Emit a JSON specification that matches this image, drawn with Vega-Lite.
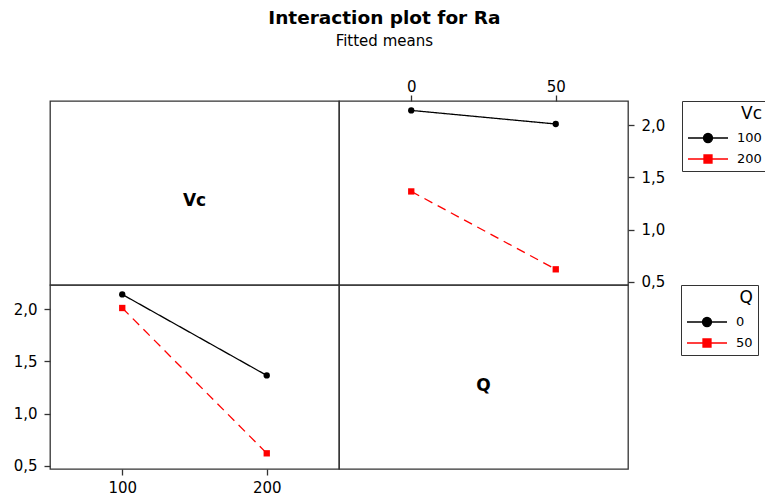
{
  "$schema": "https://vega.github.io/schema/vega-lite/v6.json",
  "padding": {"left": 12, "top": 8, "right": 0, "bottom": 0},
  "background": "white",
  "title": {
    "text": "Interaction plot for Ra",
    "subtitle": "Fitted means",
    "anchor": "middle",
    "frame": "bounds",
    "dx": -6,
    "font": "DejaVu Sans",
    "fontSize": 18.5,
    "fontWeight": "bold",
    "color": "black",
    "subtitleFont": "DejaVu Sans",
    "subtitleFontSize": 15,
    "subtitleColor": "black",
    "subtitlePadding": 7,
    "offset": 29
  },
  "datasets": {
    "means": [
      {"Vc": 100, "Q": 0, "Ra": 2.14},
      {"Vc": 100, "Q": 50, "Ra": 2.01},
      {"Vc": 200, "Q": 0, "Ra": 1.365},
      {"Vc": 200, "Q": 50, "Ra": 0.62}
    ]
  },
  "columns": 2,
  "spacing": 0,
  "bounds": "flush",
  "resolve": {
    "scale": {"x": "independent", "y": "independent", "color": "independent", "shape": "independent", "strokeDash": "independent"},
    "legend": {"color": "independent"}
  },
  "concat": [
    {
      "width": 289,
      "height": 184,
      "data": {"values": [{"label": "Vc"}]},
      "mark": {"type": "text", "font": "DejaVu Sans", "fontWeight": "bold", "fontSize": 17, "dy": 8, "color": "black"},
      "encoding": {
        "x": {"datum": 0.5, "type": "quantitative", "scale": {"domain": [0, 1]}, "axis": null},
        "y": {"datum": 0.5, "type": "quantitative", "scale": {"domain": [0, 1]}, "axis": null},
        "text": {"field": "label", "type": "nominal"}
      }
    },
    {
      "width": 289,
      "height": 184,
      "data": {"name": "means"},
      "encoding": {
        "x": {"field": "Q", "type": "quantitative", "scale": {"domain": [-25, 75], "nice": false, "zero": false},
              "axis": {"orient": "top", "values": [0, 50], "title": null, "labelPadding": 1}},
        "y": {"field": "Ra", "type": "quantitative", "scale": {"domain": [0.47, 2.23], "nice": false, "zero": false},
              "axis": {"orient": "right", "values": [0.5, 1, 1.5, 2], "title": null, "labelPadding": 7,
                       "labelExpr": "replace(format(datum.value, '.1f'), '.', ',')"}},
        "color": {"field": "Vc", "type": "nominal", "scale": {"range": ["black", "red"]},
          "legend": {
            "title": "Vc", "orient": "right", "offset": 17, "padding": 5,
            "strokeColor": "#333", "fillColor": "white",
            "titleFont": "DejaVu Sans", "titleFontSize": 17, "titleFontWeight": "normal", "titleColor": "black",
            "titleAnchor": "end", "titlePadding": 4,
            "labelFont": "DejaVu Sans", "labelFontSize": 13, "labelColor": "black", "labelOffset": 28,
            "symbolSize": 400, "symbolStrokeWidth": 1.3, "symbolOpacity": 1,
            "encode": {"symbols": {"update": {
              "shape": {"signal": "datum.value == 100 ? 'M-1,0H3M0.55,0A0.45,0.45 0 1,1 1.45,0A0.45,0.45 0 1,1 0.55,0Z' : 'M-1,0H3M0.6,-0.4H1.4V0.4H0.6Z'"},
              "fill": {"signal": "datum.value == 100 ? 'black' : 'red'"},
              "stroke": {"signal": "datum.value == 100 ? 'black' : 'red'"},
              "strokeWidth": {"value": 1.3},
              "opacity": {"value": 1}
            }}}
          }}
      },
      "layer": [
        {
          "mark": {"type": "line", "strokeWidth": 1.3},
          "encoding": {
            "strokeDash": {"field": "Vc", "type": "nominal", "scale": {"range": [[1, 0], [9, 6]]}, "legend": null}
          }
        },
        {
          "mark": {"type": "point", "filled": true, "size": 40, "opacity": 1},
          "encoding": {
            "shape": {"field": "Vc", "type": "nominal", "scale": {"range": ["circle", "square"]}, "legend": null}
          }
        }
      ]
    },
    {
      "width": 289,
      "height": 184,
      "data": {"name": "means"},
      "encoding": {
        "x": {"field": "Vc", "type": "quantitative", "scale": {"domain": [50, 250], "nice": false, "zero": false},
              "axis": {"orient": "bottom", "values": [100, 200], "title": null, "labelPadding": 5}},
        "y": {"field": "Ra", "type": "quantitative", "scale": {"domain": [0.47, 2.23], "nice": false, "zero": false},
              "axis": {"orient": "left", "values": [0.5, 1, 1.5, 2], "title": null, "labelPadding": 7,
                       "labelExpr": "replace(format(datum.value, '.1f'), '.', ',')"}},
        "color": {"field": "Q", "type": "nominal", "scale": {"range": ["black", "red"]}, "legend": null}
      },
      "layer": [
        {
          "mark": {"type": "line", "strokeWidth": 1.3},
          "encoding": {
            "strokeDash": {"field": "Q", "type": "nominal", "scale": {"range": [[1, 0], [9, 6]]}, "legend": null}
          }
        },
        {
          "mark": {"type": "point", "filled": true, "size": 40, "opacity": 1},
          "encoding": {
            "shape": {"field": "Q", "type": "nominal", "scale": {"range": ["circle", "square"]}, "legend": null}
          }
        }
      ]
    },
    {
      "width": 289,
      "height": 184,
      "encoding": {
        "x": {"datum": 0.5, "type": "quantitative", "scale": {"domain": [0, 1]}, "axis": null},
        "y": {"datum": 0.5, "type": "quantitative", "scale": {"domain": [0, 1]}, "axis": null}
      },
      "layer": [
        {
          "data": {"name": "means"},
          "mark": {"type": "point", "filled": true, "opacity": 0},
          "encoding": {
            "color": {"field": "Q", "type": "nominal", "scale": {"range": ["black", "red"]},
              "legend": {
                "title": "Q", "orient": "right", "offset": 53, "padding": 5,
                "strokeColor": "#333", "fillColor": "white",
                "titleFont": "DejaVu Sans", "titleFontSize": 17, "titleFontWeight": "normal", "titleColor": "black",
                "titleAnchor": "end", "titlePadding": 4,
                "labelFont": "DejaVu Sans", "labelFontSize": 13, "labelColor": "black", "labelOffset": 28,
                "symbolSize": 400, "symbolStrokeWidth": 1.3, "symbolOpacity": 1,
                "encode": {"symbols": {"update": {
                  "shape": {"signal": "datum.value == 0 ? 'M-1,0H3M0.55,0A0.45,0.45 0 1,1 1.45,0A0.45,0.45 0 1,1 0.55,0Z' : 'M-1,0H3M0.6,-0.4H1.4V0.4H0.6Z'"},
                  "fill": {"signal": "datum.value == 0 ? 'black' : 'red'"},
                  "stroke": {"signal": "datum.value == 0 ? 'black' : 'red'"},
                  "strokeWidth": {"value": 1.3},
                  "opacity": {"value": 1}
                }}}
              }}
          }
        },
        {
          "data": {"values": [{"label": "Q"}]},
          "mark": {"type": "text", "font": "DejaVu Sans", "fontWeight": "bold", "fontSize": 17, "dy": 9, "color": "black"},
          "encoding": {"text": {"field": "label", "type": "nominal"}}
        }
      ]
    }
  ],
  "config": {
    "view": {"stroke": "#333", "strokeWidth": 1.3},
    "axis": {
      "domain": false, "grid": false,
      "tickColor": "#333", "tickSize": 6, "tickWidth": 1.3,
      "labelFont": "DejaVu Sans", "labelFontSize": 15, "labelColor": "black"
    },
    "legend": {"symbolOpacity": 1}
  }
}
